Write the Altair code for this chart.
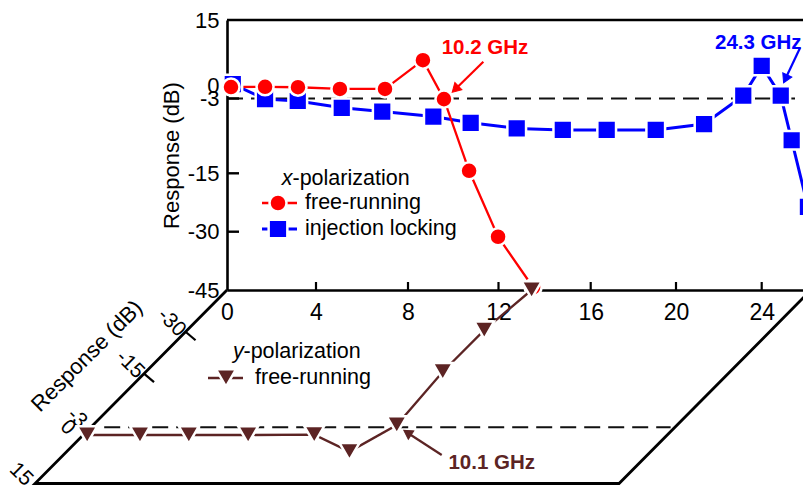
import altair as alt
import pandas as pd

# ---------------- values ----------------
# x-polarization (upper panel): frequency (GHz) and response (dB)
XPOL_FREE_GHZ = [0.18, 1.71, 3.19, 5.04, 7.00, 8.66, 9.59, 10.70, 11.98, 13.50]
XPOL_FREE_DB = [-0.35, -0.3, -0.4, -0.8, -0.8, 5.8, -3.1, -14.6, -31.3, -44.3]
XPOL_INJ_GHZ = [0.26, 1.71, 3.18, 5.12, 6.88, 9.12, 10.77, 12.79, 14.79, 16.75,
                19.05, 21.31, 23.14, 24.00, 24.89, 25.40, 26.16]
XPOL_INJ_DB = [0.3, -3.1, -3.4, -4.5, -5.1, -5.9, -6.9, -7.8, -8.05, -8.05,
               -8.05, -7.1, -2.35, 4.5, -2.35, -9.7, -23.6]
# y-polarization (lower, slanted panel)
YPOL_FREE_GHZ = [0.18, 2.55, 4.74, 7.40, 10.35, 12.68, 13.62, 13.31, 13.32, 13.66]
YPOL_FREE_DB = [-0.5, -0.5, -0.5, -0.5, -0.6, 4.8, -3.5, -15.7, -30.6, -45.0]

FREQ_TICKS = [0, 4, 8, 12, 16, 20, 24]
RESP_TICKS = [15, 0, -3, -15, -30, -45]
INNER_RESP_TICKS = [-3, -15, -30]
SLANT_TICKS = [-30, -15]
SLANT_LABELS = [-30, -15, -3, 0, 15]
THRESHOLD_DB = -3

SERIES_X = ["free-running", "injection locking"]
SERIES_Y = ["free-running"]
POL_X = ["x", "-polarization"]
POL_Y = ["y", "-polarization"]

# annotations: label, text pos (GHz, dB), arrow start, arrow head
ANN_RED = ("10.2 GHz", (11.40, 8.6), (11.33, 5.45), (10.09, -0.85))
ANN_BLUE = ("24.3 GHz", (21.82, 9.8), (25.79, 8.6), (25.11, 1.53))
ANN_BROWN = ("10.1 GHz", (19.57, 8.45), (16.97, 5.89), (14.44, -1.24))
SLANT_TITLE_POS = (-3.34, -21.3)

# ---------------- styling / geometry ----------------
RED, BLUE, BROWN = "#FF0000", "#0000FF", "#5C2424"
FONT = "Liberation Sans, Arial, Helvetica, sans-serif"
W, H = 576, 270
FREQ_NODES = [0, 4, 8, 12, 16, 20, 24, 25.93]
FREQ_NODE_PX = [0, 89, 181, 271.5, 363.7, 449, 534.7, 576]
RESP_NODES = [-45, -30, -15, -3, 0, 15]
RESP_NODE_PX = [270, 211.7, 153.3, 78.5, 65.5, 0]
DEPTH_PX = 193.5
SLANT_PX = 192.0
PX_PER_GHZ = 22.3
FB_NODES = [(H - p) / H for p in RESP_NODE_PX]

SQ_SIZE, CIR_SIZE, TRI_SIZE = 350, 290, 400


def piecewise(var, xs, ys):
    expr = ""
    n = len(xs)
    for i in range(n - 1):
        x0, x1, y0, y1 = xs[i], xs[i + 1], ys[i], ys[i + 1]
        k = (y1 - y0) / (x1 - x0)
        seg = f"({y0:.6f} + ({var} - ({x0})) * {k:.6f})"
        expr += f"{var} < {x1} ? {seg} : " if i < n - 2 else seg
    return "(" + expr + ")"


FB_EXPR = piecewise("datum.r", RESP_NODES, FB_NODES)
XB_EXPR = f"datum.f - datum.fb * {SLANT_PX / PX_PER_GHZ:.6f}"

X_SCALE = alt.Scale(domain=FREQ_NODES, range=FREQ_NODE_PX, nice=False, zero=False)
Y_SCALE = alt.Scale(domain=RESP_NODES, range=RESP_NODE_PX, nice=False, zero=False)
XB_SCALE = alt.Scale(domain=[0, W / PX_PER_GHZ], range=[0, W], nice=False, zero=False)
YB_SCALE = alt.Scale(domain=[0, 1], range=[H, H + DEPTH_PX], nice=False, zero=False)

X_AXIS = alt.Axis(values=FREQ_TICKS, title=None, labelExpr="datum.value + ''",
                  ticks=False, tickSize=0, domainWidth=2.6, domainColor="black",
                  labelFont=FONT, labelFontSize=23, labelColor="black",
                  labelPadding=11, labelFlush=False, labelOverlap=False, grid=False)
Y_AXIS = alt.Axis(values=RESP_TICKS, title="Response (dB)", labelExpr="datum.value + ''",
                  ticks=False, tickSize=0, domainWidth=2.6, domainColor="black",
                  labelFont=FONT, labelFontSize=22, labelColor="black",
                  labelPadding=8, labelFlush=False, labelOverlap=False, grid=False,
                  titleFont=FONT, titleFontSize=22, titleFontWeight="normal",
                  titleColor="black", titlePadding=4)


def TX(field="f"):
    return alt.X(field, type="quantitative", scale=X_SCALE, axis=X_AXIS)


def TY(field="r"):
    return alt.Y(field, type="quantitative", scale=Y_SCALE, axis=Y_AXIS)


def BX(field="xb"):
    return alt.X(field, type="quantitative", scale=XB_SCALE, axis=None)


def BY(field="fb"):
    return alt.Y(field, type="quantitative", scale=YB_SCALE, axis=None)


def bottom(df):
    return alt.Chart(df).transform_calculate(fb=FB_EXPR).transform_calculate(xb=XB_EXPR)


ONE = pd.DataFrame({"k": [0]})


def text_px(txt, px, py, size=21.5, color="black", style="normal", weight="normal", align="left"):
    return alt.Chart(ONE).mark_text(text=txt, font=FONT, fontSize=size, color=color,
                                    fontStyle=style, fontWeight=weight, align=align,
                                    baseline="middle").encode(x=alt.value(px), y=alt.value(py))


def line_px(x1, x2, py, color, width):
    return alt.Chart(ONE).mark_rule(color=color, strokeWidth=width).encode(
        x=alt.value(x1), x2=alt.value(x2), y=alt.value(py))


def marker_px(px, py, shape, color, size):
    return alt.Chart(ONE).mark_point(shape=shape, fill=color, stroke="white", strokeWidth=2.5,
                                     size=size, opacity=1, fillOpacity=1).encode(
        x=alt.value(px), y=alt.value(py))


# ---------------- data frames ----------------
df_red = pd.DataFrame({"f": XPOL_FREE_GHZ, "r": XPOL_FREE_DB, "i": range(len(XPOL_FREE_GHZ))})
df_blue = pd.DataFrame({"f": XPOL_INJ_GHZ, "r": XPOL_INJ_DB, "i": range(len(XPOL_INJ_GHZ))})
df_brown = pd.DataFrame({"f": YPOL_FREE_GHZ, "r": YPOL_FREE_DB, "i": range(len(YPOL_FREE_GHZ))})

f_end = FREQ_NODES[-1] + 0.6
df_frame_top = pd.DataFrame({"f": [0, f_end], "r": [RESP_TICKS[0], RESP_TICKS[0]]})
df_thr_top = pd.DataFrame({"f": [0, f_end], "r": [THRESHOLD_DB, THRESHOLD_DB]})
df_xticks = pd.DataFrame({"f": FREQ_TICKS[1:]})
df_yticks = pd.DataFrame({"r": INNER_RESP_TICKS})

b_end = 26.19
df_frame_bot = pd.DataFrame({"f": [0, 0, b_end, b_end],
                             "r": [RESP_TICKS[-1], RESP_TICKS[0], RESP_TICKS[0], RESP_TICKS[-1]],
                             "i": [0, 1, 2, 3]})
df_thr_bot = pd.DataFrame({"f": [0.6, 26.0], "r": [THRESHOLD_DB, THRESHOLD_DB], "i": [0, 1]})
df_sticks = pd.DataFrame({"f": [0] * len(SLANT_TICKS), "r": SLANT_TICKS})
df_slabels = pd.DataFrame({"f": [0] * len(SLANT_LABELS), "r": SLANT_LABELS})

# ---------------- upper panel (x-polarization) ----------------
top = []
top.append(alt.Chart(df_frame_top).mark_line(color="black", strokeWidth=2.6).encode(x=TX(), y=TY()))
top.append(alt.Chart(df_thr_top).mark_line(color="#111111", strokeWidth=2, strokeDash=[16, 8]).encode(x=TX(), y=TY()))
top.append(alt.Chart(df_xticks).mark_rule(color="black", strokeWidth=2.2).encode(
    x=TX(), y=alt.value(H), y2=alt.value(H - 8)))
top.append(alt.Chart(df_yticks).mark_rule(color="black", strokeWidth=2.4).encode(
    y=TY(), x=alt.value(0), x2=alt.value(12)))
top.append(alt.Chart(df_blue).mark_line(color=BLUE, strokeWidth=3).encode(x=TX(), y=TY(), order="i:Q"))
top.append(alt.Chart(df_red).mark_line(color=RED, strokeWidth=2.3).encode(x=TX(), y=TY(), order="i:Q"))
top.append(alt.Chart(df_blue).mark_point(shape="square", fill=BLUE, stroke="white", strokeWidth=2.5,
                                         size=SQ_SIZE, opacity=1, fillOpacity=1).encode(x=TX(), y=TY()))
top.append(alt.Chart(df_red).mark_point(shape="circle", fill=RED, stroke="white", strokeWidth=2.5,
                                        size=CIR_SIZE, opacity=1, fillOpacity=1).encode(x=TX(), y=TY()))

for (label, tpos, start, head), color, angle, align in [
        (ANN_RED, RED, 225.5, "center"), (ANN_BLUE, BLUE, 205.3, "left")]:
    dfa = pd.DataFrame({"f": [start[0]], "r": [start[1]], "f2": [head[0]], "r2": [head[1]]})
    dfh = pd.DataFrame({"f": [head[0]], "r": [head[1]]})
    dft = pd.DataFrame({"f": [tpos[0]], "r": [tpos[1]], "t": [label]})
    top.append(alt.Chart(dfa).mark_rule(color=color, strokeWidth=2.2).encode(
        x=TX(), y=TY(), x2="f2", y2="r2"))
    top.append(alt.Chart(dfh).mark_point(shape="triangle-up", angle=angle, fill=color, stroke=color,
                                         strokeWidth=1, size=100, opacity=1).encode(x=TX(), y=TY()))
    top.append(alt.Chart(dft).mark_text(font=FONT, fontSize=20.5, fontWeight="bold", color=color,
                                        align=align, baseline="middle").encode(x=TX(), y=TY(), text="t:N"))

# ---------------- lower slanted panel (y-polarization) ----------------
bot = []
bot.append(bottom(df_frame_bot).mark_line(color="black", strokeWidth=2.8).encode(x=BX(), y=BY(), order="i:Q"))
bot.append(bottom(df_thr_bot).mark_line(color="#111111", strokeWidth=2, strokeDash=[16, 8]).encode(
    x=BX(), y=BY(), order="i:Q"))
bot.append(bottom(df_sticks).transform_calculate(
    xb2=f"datum.xb + {10 / PX_PER_GHZ:.5f}", fb2=f"datum.fb + {8.5 / DEPTH_PX:.5f}"
).mark_rule(color="black", strokeWidth=2.2).encode(x=BX(), y=BY(), x2="xb2", y2="fb2"))
bot.append(bottom(df_slabels).transform_calculate(
    xl=f"datum.xb - {14 / PX_PER_GHZ:.5f}", fl=f"datum.fb - {9 / DEPTH_PX:.5f}", t="datum.r + ''"
).mark_text(font=FONT, fontSize=21, color="black", angle=45, align="center", baseline="middle").encode(
    x=BX("xl"), y=BY("fl"), text="t:N"))
df_st = pd.DataFrame({"f": [SLANT_TITLE_POS[0]], "r": [SLANT_TITLE_POS[1]], "t": ["Response (dB)"]})
bot.append(bottom(df_st).mark_text(font=FONT, fontSize=22, color="black", angle=315,
                                   align="center", baseline="middle").encode(x=BX(), y=BY(), text="t:N"))
bot.append(bottom(df_brown).mark_line(color=BROWN, strokeWidth=2.3).encode(x=BX(), y=BY(), order="i:Q"))
bot.append(bottom(df_brown).mark_point(shape="triangle-down", fill=BROWN, stroke="white", strokeWidth=2.5,
                                       size=TRI_SIZE, opacity=1, fillOpacity=1).encode(x=BX(), y=BY()))

label, tpos, start, head = ANN_BROWN
dfa = pd.DataFrame({"f": [start[0], head[0]], "r": [start[1], head[1]], "i": [0, 1]})
dfh = pd.DataFrame({"f": [head[0]], "r": [head[1]]})
dft = pd.DataFrame({"f": [tpos[0]], "r": [tpos[1]], "t": [label]})
bot.append(bottom(dfa).mark_line(color=BROWN, strokeWidth=2.2).encode(x=BX(), y=BY(), order="i:Q"))
bot.append(bottom(dfh).mark_point(shape="triangle-up", angle=303, fill=BROWN, stroke=BROWN,
                                  strokeWidth=1, size=100, opacity=1).encode(x=BX(), y=BY()))
bot.append(bottom(dft).mark_text(font=FONT, fontSize=20.5, fontWeight="bold", color=BROWN,
                                 align="center", baseline="middle").encode(x=BX(), y=BY(), text="t:N"))

# ---------------- legends ----------------
leg = []
leg.append(text_px(POL_X[0], 54.7, 159, style="italic"))
leg.append(text_px(POL_X[1], 65.5, 159))
leg.append(line_px(35, 70, 183, RED, 2.3))
leg.append(marker_px(51, 183, "circle", RED, CIR_SIZE))
leg.append(text_px(SERIES_X[0], 78, 183))
leg.append(line_px(35, 70, 209, BLUE, 3))
leg.append(marker_px(51, 209, "square", BLUE, SQ_SIZE))
leg.append(text_px(SERIES_X[1], 78, 209))
leg.append(text_px(POL_Y[0], 6, 332, style="italic"))
leg.append(text_px(POL_Y[1], 16.5, 332))
leg.append(line_px(-19, 16, 358, BROWN, 2.3))
leg.append(marker_px(-1, 358, "triangle-down", BROWN, TRI_SIZE))
leg.append(text_px(SERIES_Y[0], 28, 358))

chart = alt.layer(
    alt.layer(*top),
    alt.layer(*(bot + leg)),
).resolve_scale(x="independent", y="independent").properties(
    width=W, height=H, autosize="none",
    padding={"left": 227, "top": 20, "right": 0, "bottom": 196},
    background="white",
).configure_view(stroke=None)

chart.save("out.html", embed_options={"renderer": "svg", "actions": False})
